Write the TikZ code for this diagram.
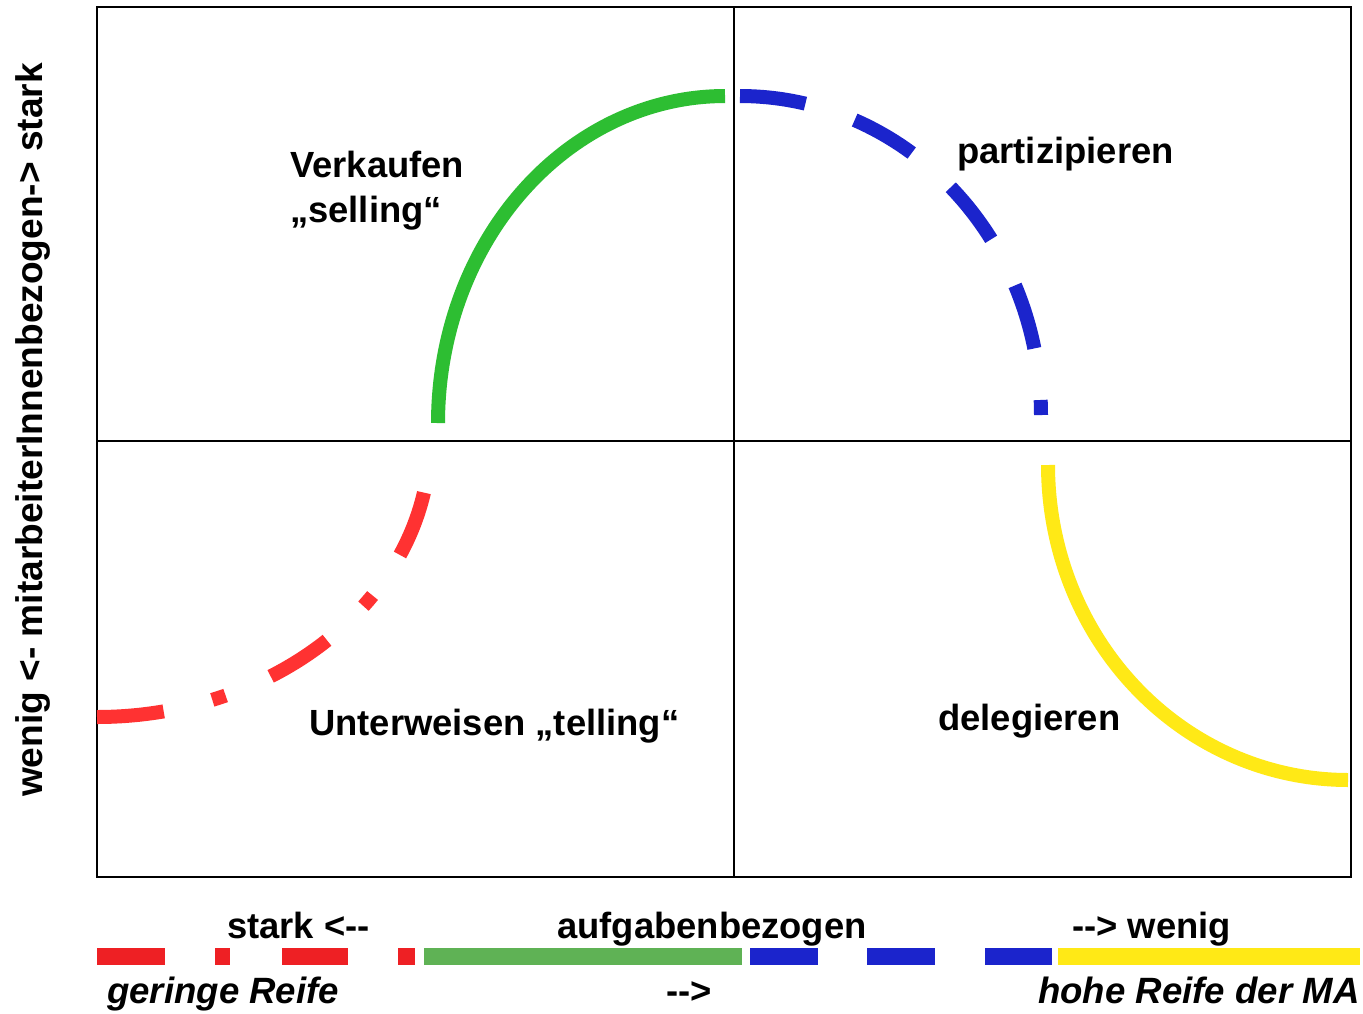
\documentclass[tikz,border=0pt]{standalone}
\usepackage{fontspec}
\setmainfont{Liberation Sans}
\definecolor{cred}{RGB}{255,50,50}
\definecolor{bred}{RGB}{238,32,36}
\definecolor{cgreen}{RGB}{45,190,50}
\definecolor{bgreen}{RGB}{95,178,85}
\definecolor{cblue}{RGB}{27,36,204}
\definecolor{cyellow}{RGB}{255,233,22}
\newcommand{\dd}{-\kern0pt-}
\tikzset{
  lbl/.style={inner sep=0pt, anchor=base west, font=\fontsize{36.4}{42}\selectfont\bfseries},
  ilbl/.style={lbl, font=\fontsize{36.6}{42}\selectfont\bfseries\itshape},
  curve/.style={line width=14pt, line cap=butt},
  frameline/.style={line width=2pt, black}
}
\begin{document}
\begin{tikzpicture}[x=1pt,y=-1pt]
\useasboundingbox (0,0) rectangle (1363,1013);
\fill[white] (0,0) rectangle (1363,1013);
% frame
\draw[frameline] (97,7) rectangle (1351,877);
\draw[frameline] (734,7) -- (734,877);
\draw[frameline] (97,441) -- (1351,441);
% curves
\draw[curve, cgreen] plot[domain=180:270, samples=80, smooth] ({725+287*cos(\x)},{423+327*sin(\x)});
\draw[curve, cblue, dash pattern=on 66pt off 52pt] plot[domain=-90:0, samples=80, smooth] ({740+301*cos(\x)},{415+319*sin(\x)});
\draw[curve, cred, dash pattern=on 67pt off 50pt on 14pt off 49pt] plot[domain=90:10, samples=80, smooth] ({97+333*cos(\x)},{440+277*sin(\x)});
\draw[curve, cyellow] plot[domain=180:90, samples=80, smooth] ({1348+300*cos(\x)},{465+315*sin(\x)});
% labels
\node[lbl] (verk) at (290,177) {Verkaufen};
\node[lbl] (sell) at (290,222) {„selling“};
\node[lbl] (part) at (957,163) {partizipieren};
\node[lbl] (unter) at (309,735) {Unterweisen „telling“};
\node[lbl] (deleg) at (938,730) {delegieren};
\node[rotate=90, inner sep=0pt, font=\fontsize{37.1}{42}\selectfont\bfseries] (yaxis) at (33,430) {wenig <- mitarbeiterInnenbezogen-> stark};
% bottom bar
\fill[bred] (97,948) rectangle (165,965);
\fill[bred] (215,948) rectangle (230,965);
\fill[bred] (282,948) rectangle (348,965);
\fill[bred] (398,948) rectangle (415,965);
\fill[bgreen] (424,948) rectangle (742,965);
\fill[cblue] (750,948) rectangle (818,965);
\fill[cblue] (867,948) rectangle (935,965);
\fill[cblue] (985,948) rectangle (1052,965);
\fill[cyellow] (1058,948) rectangle (1360,965);
\node[lbl] (stark) at (227,938) {stark <\dd};
\node[lbl] (aufg) at (557,938) {aufgabenbezogen};
\node[lbl] (wenig) at (1072,938) {\dd> wenig};
\node[ilbl] (gering) at (107,1003) {geringe Reife};
\node[lbl] (arrow) at (666,1003) {\dd>};
\node[ilbl] (hohe) at (1038,1003) {hohe Reife der MA};
\end{tikzpicture}
\end{document}
